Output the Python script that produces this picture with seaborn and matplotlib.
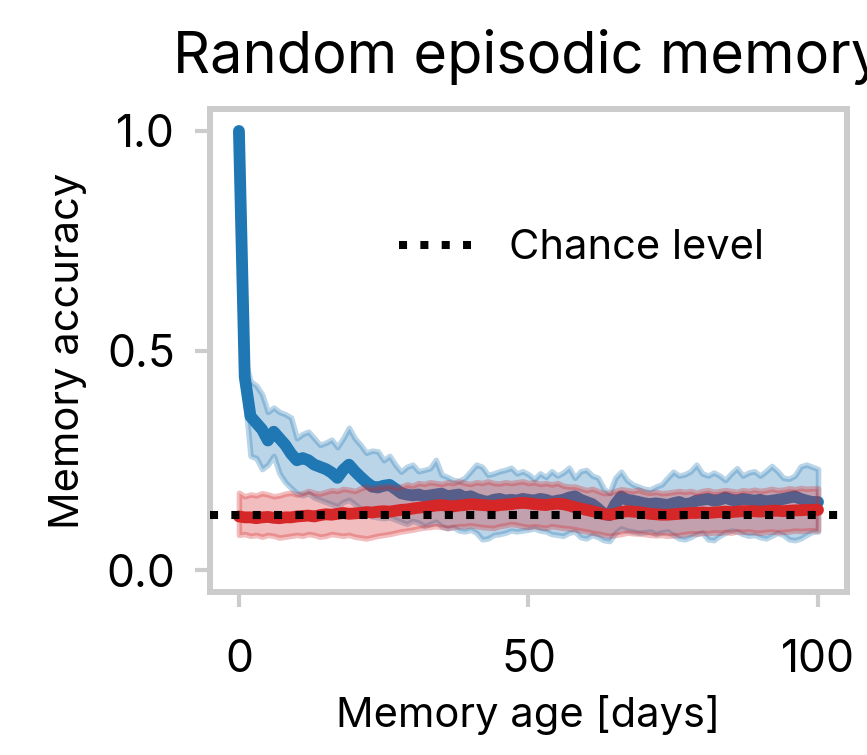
import numpy as np
import pandas as pd
import matplotlib
matplotlib.use("Agg")
import matplotlib.pyplot as plt
import seaborn as sns

# ---------------- data ----------------
days = list(range(101))

blue_mean = [1.00, 0.44, 0.35, 0.335, 0.32, 0.295, 0.315, 0.30, 0.285, 0.265,
             0.25, 0.255, 0.25, 0.24, 0.235, 0.23, 0.222, 0.21, 0.228, 0.24,
             0.225, 0.212, 0.20, 0.19, 0.188, 0.192, 0.194, 0.185, 0.175, 0.172,
             0.17, 0.172, 0.168, 0.17, 0.172, 0.174, 0.168, 0.17, 0.172, 0.165,
             0.168, 0.162, 0.158, 0.155, 0.16, 0.162, 0.158, 0.16, 0.158, 0.162,
             0.16, 0.158, 0.162, 0.16, 0.155, 0.158, 0.16, 0.165, 0.168, 0.16,
             0.155, 0.15, 0.14, 0.128, 0.125, 0.15, 0.167, 0.16, 0.158, 0.155,
             0.152, 0.15, 0.152, 0.15, 0.148, 0.152, 0.155, 0.15, 0.152, 0.158,
             0.16, 0.162, 0.158, 0.16, 0.165, 0.16, 0.158, 0.162, 0.16, 0.158,
             0.16, 0.156, 0.158, 0.16, 0.162, 0.165, 0.168, 0.162, 0.158, 0.155,
             0.155]
blue_hi = [1.00, 0.48, 0.43, 0.42, 0.40, 0.36, 0.37, 0.36, 0.355, 0.347,
           0.30, 0.31, 0.315, 0.30, 0.285, 0.29, 0.297, 0.28, 0.30, 0.324,
           0.30, 0.285, 0.267, 0.272, 0.27, 0.25, 0.26, 0.24, 0.224, 0.235,
           0.24, 0.225, 0.228, 0.232, 0.251, 0.217, 0.212, 0.205, 0.203, 0.21,
           0.225, 0.24, 0.235, 0.217, 0.22, 0.225, 0.228, 0.233, 0.22, 0.225,
           0.218, 0.207, 0.22, 0.212, 0.225, 0.215, 0.222, 0.233, 0.21, 0.225,
           0.228, 0.215, 0.21, 0.185, 0.175, 0.21, 0.224, 0.205, 0.195, 0.19,
           0.185, 0.183, 0.19, 0.195, 0.21, 0.224, 0.215, 0.218, 0.225, 0.24,
           0.22, 0.215, 0.222, 0.215, 0.205, 0.22, 0.232, 0.215, 0.222, 0.225,
           0.215, 0.225, 0.237, 0.225, 0.21, 0.208, 0.215, 0.236, 0.24, 0.235,
           0.23]
blue_lo = [1.00, 0.40, 0.26, 0.255, 0.23, 0.24, 0.26, 0.22, 0.20, 0.187,
           0.175, 0.17, 0.175, 0.165, 0.16, 0.155, 0.15, 0.145, 0.155, 0.16,
           0.15, 0.14, 0.13, 0.122, 0.12, 0.118, 0.12, 0.115, 0.11, 0.105,
           0.112, 0.108, 0.10, 0.105, 0.11, 0.10, 0.095, 0.098, 0.09, 0.088,
           0.092, 0.085, 0.07, 0.072, 0.08, 0.082, 0.085, 0.09, 0.088, 0.09,
           0.092, 0.095, 0.09, 0.088, 0.082, 0.08, 0.078, 0.085, 0.088, 0.075,
           0.072, 0.08, 0.075, 0.068, 0.066, 0.085, 0.095, 0.09, 0.088, 0.085,
           0.086, 0.088, 0.082, 0.086, 0.088, 0.08, 0.072, 0.07, 0.075, 0.082,
           0.085, 0.07, 0.068, 0.078, 0.085, 0.09, 0.088, 0.082, 0.078, 0.08,
           0.075, 0.072, 0.078, 0.085, 0.08, 0.07, 0.068, 0.072, 0.08, 0.087,
           0.088]

red_mean = [0.122, 0.12, 0.12, 0.118, 0.12, 0.121, 0.119, 0.118, 0.12, 0.12,
            0.122, 0.123, 0.124, 0.122, 0.125, 0.127, 0.126, 0.128, 0.13, 0.128,
            0.129, 0.13, 0.132, 0.131, 0.133, 0.134, 0.133, 0.135, 0.137, 0.138,
            0.14, 0.142, 0.143, 0.145, 0.147, 0.148, 0.146, 0.145, 0.147, 0.148,
            0.15, 0.149, 0.148, 0.147, 0.146, 0.148, 0.149, 0.15, 0.152, 0.153,
            0.152, 0.15, 0.149, 0.148, 0.15, 0.151, 0.15, 0.147, 0.143, 0.14,
            0.137, 0.134, 0.131, 0.127, 0.126, 0.128, 0.132, 0.134, 0.133, 0.132,
            0.13, 0.128, 0.127, 0.126, 0.126, 0.127, 0.128, 0.129, 0.13, 0.13,
            0.131, 0.13, 0.131, 0.132, 0.133, 0.132, 0.133, 0.134, 0.134, 0.134,
            0.133, 0.134, 0.135, 0.135, 0.134, 0.135, 0.136, 0.136, 0.137, 0.137,
            0.137]
red_hi = [0.176, 0.168, 0.172, 0.17, 0.175, 0.172, 0.168, 0.17, 0.174, 0.176,
          0.172, 0.175, 0.18, 0.176, 0.174, 0.178, 0.182, 0.18, 0.185, 0.183,
          0.18, 0.186, 0.19, 0.186, 0.19, 0.19, 0.192, 0.188, 0.19, 0.195,
          0.192, 0.198, 0.196, 0.2, 0.198, 0.196, 0.2, 0.198, 0.202, 0.198,
          0.196, 0.2, 0.198, 0.202, 0.198, 0.197, 0.2, 0.198, 0.2, 0.202,
          0.198, 0.2, 0.196, 0.198, 0.195, 0.198, 0.192, 0.19, 0.19, 0.186,
          0.182, 0.185, 0.18, 0.175, 0.176, 0.18, 0.184, 0.182, 0.18, 0.183,
          0.178, 0.176, 0.178, 0.175, 0.176, 0.178, 0.18, 0.178, 0.18, 0.176,
          0.18, 0.182, 0.178, 0.18, 0.182, 0.18, 0.178, 0.182, 0.18, 0.183,
          0.18, 0.182, 0.185, 0.182, 0.183, 0.186, 0.184, 0.187, 0.185, 0.186,
          0.186]
red_lo = [0.08, 0.082, 0.078, 0.08, 0.076, 0.08, 0.078, 0.074, 0.076, 0.078,
          0.08, 0.078, 0.082, 0.08, 0.076, 0.078, 0.082, 0.08, 0.078, 0.08,
          0.076, 0.074, 0.072, 0.075, 0.078, 0.08, 0.082, 0.085, 0.088, 0.09,
          0.092, 0.095, 0.097, 0.098, 0.10, 0.098, 0.096, 0.098, 0.10, 0.10,
          0.102, 0.10, 0.098, 0.097, 0.096, 0.10, 0.102, 0.105, 0.103, 0.10,
          0.098, 0.10, 0.098, 0.096, 0.10, 0.098, 0.096, 0.095, 0.093, 0.09,
          0.088, 0.085, 0.083, 0.08, 0.078, 0.08, 0.082, 0.085, 0.084, 0.083,
          0.082, 0.08, 0.079, 0.08, 0.078, 0.079, 0.08, 0.082, 0.084, 0.083,
          0.085, 0.084, 0.086, 0.085, 0.087, 0.085, 0.088, 0.087, 0.088, 0.086,
          0.085, 0.087, 0.088, 0.086, 0.087, 0.088, 0.09, 0.089, 0.09, 0.091,
          0.09]

chance_level = 0.125
title = "Random episodic memory"
xlabel = "Memory age [days]"
ylabel = "Memory accuracy"
legend_label = "Chance level"
xticks = [0, 50, 100]
yticks = [0.0, 0.5, 1.0]
ytick_labels = ["0.0", "0.5", "1.0"]

# ---------------- style ----------------
sns.set_style("white")
plt.rcParams["font.family"] = ["Inter", "DejaVu Sans"]
plt.rcParams["text.color"] = "black"
plt.rcParams["axes.labelcolor"] = "black"

BLUE = "#1f77b4"
RED = "#d62728"
SPINE = "#cccccc"

fig = plt.figure(figsize=(8.67, 7.55), dpi=100)
ax = fig.add_axes([0.2422, 0.2159, 0.7347, 0.6397])

df = pd.DataFrame({"day": days, "blue": blue_mean, "red": red_mean})

ax.fill_between(days, blue_lo, blue_hi, color=BLUE, alpha=0.3, linewidth=4, zorder=1)
sns.lineplot(data=df, x="day", y="blue", ax=ax, color=BLUE, linewidth=8.5,
             solid_capstyle="round", solid_joinstyle="round", zorder=2)
ax.fill_between(days, red_lo, red_hi, color=RED, alpha=0.3, linewidth=4, zorder=3)
sns.lineplot(data=df, x="day", y="red", ax=ax, color=RED, linewidth=8.5,
             solid_capstyle="round", solid_joinstyle="round", zorder=4)
ax.axhline(chance_level, color="black", linestyle=":", linewidth=5.8, zorder=5,
           label=legend_label)

ax.set_xlim(-5, 105)
ax.set_ylim(-0.05, 1.05)
ax.set_xticks(xticks)
ax.set_yticks(yticks)
ax.set_yticklabels(ytick_labels)

for s in ax.spines.values():
    s.set_visible(True)
    s.set_color(SPINE)
    s.set_linewidth(4.3)

ax.tick_params(axis="both", which="major", direction="out", length=11,
               width=3, color=SPINE, labelsize=32, labelcolor="black",
               bottom=True, left=True)
ax.tick_params(axis="y", pad=14)
ax.tick_params(axis="x", pad=23)

ax.set_xlabel(xlabel, fontsize=30, labelpad=10, color="black")
ax.set_ylabel(ylabel, fontsize=30, labelpad=14, color="black")
ax.set_title(title, fontsize=41.5, pad=26, color="black")

ax.legend(loc="center left", bbox_to_anchor=(0.238, 0.712), frameon=False,
          fontsize=30, handlelength=1.73, handletextpad=0.9, labelcolor="black")

fig.savefig("out.png", dpi=100)
